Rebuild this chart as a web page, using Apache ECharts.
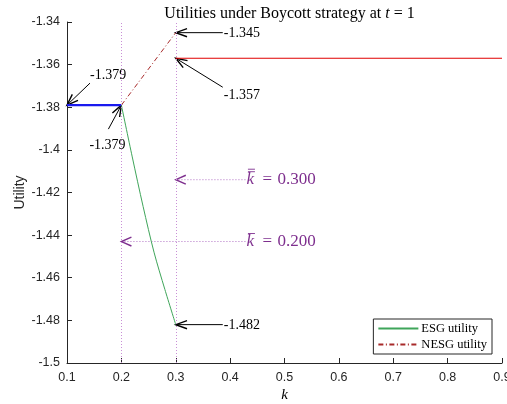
<!DOCTYPE html>
<html>
<head>
<meta charset="utf-8">
<script src="https://cdn.jsdelivr.net/npm/echarts@6/dist/echarts.min.js"></script>
<style>
  html, body { margin: 0; padding: 0; background: #ffffff; }
  #chart { width: 507px; height: 404px; }
</style>
</head>
<body>
<div id="chart"></div>
<script>
// Axis ticks
const kTicks = [0.1, 0.2, 0.3, 0.4, 0.5, 0.6, 0.7, 0.8, 0.9];
const utilityTicks = [-1.5, -1.48, -1.46, -1.44, -1.42, -1.4, -1.38, -1.36, -1.34];

// Utility below the lower threshold (shared by both groups)
const baseK = [0.1, 0.2];
const baseU = [-1.379, -1.379];

// ESG utility between the thresholds
const esgK = [0.20, 0.22, 0.24, 0.26, 0.28, 0.30];
const esgU = [-1.379, -1.4033, -1.4266, -1.448, -1.4655, -1.482];

// NESG utility between the thresholds
const nesgK = [0.2, 0.3];
const nesgU = [-1.379, -1.345];

// Utility above the upper threshold
const flatK = [0.3, 0.9];
const flatU = [-1.357, -1.357];

// Threshold positions
const thresholdK = [0.2, 0.3];

// Value call-outs
const calloutK = [0.1, 0.2, 0.3, 0.3, 0.3];
const calloutU = [-1.379, -1.379, -1.345, -1.357, -1.482];
const calloutText = ['-1.379', '-1.379', '-1.345', '-1.357', '-1.482'];

// Threshold labels
const thrLabelK = [0.3, 0.2];
const thrLabelU = [-1.414, -1.443];
const thrLabelValue = ['0.300', '0.200'];
const thrLabelBars = [2, 1];

const zip = (a, b) => a.map((v, i) => [v, b[i]]);

const SERIF = '"Liberation Serif", "DejaVu Serif", serif';
const SANS = '"Liberation Sans", Arial, sans-serif';
const AXIS_COLOR = '#262626';
const PURPLE = '#7e2f8e';

// Pixel offsets of the call-out arrows and texts relative to their targets
const calloutLayout = [
  { tail: [23, -22], text: [23, -30] },
  { tail: [-13, 24], text: [-32, 40] },
  { tail: [47, 0], text: [48, 1] },
  { tail: [47, 29], text: [48, 37] },
  { tail: [47, 0], text: [48, 1] }
];
const THR_TEXT_K = 0.43;

function chevron(tip, from, len, halfDeg) {
  const dx = tip[0] - from[0], dy = tip[1] - from[1];
  const n = Math.hypot(dx, dy) || 1;
  const ux = dx / n, uy = dy / n;
  const a = halfDeg * Math.PI / 180, c = Math.cos(a), s = Math.sin(a);
  const p1 = [tip[0] - len * (ux * c - uy * s), tip[1] - len * (uy * c + ux * s)];
  const p2 = [tip[0] - len * (ux * c + uy * s), tip[1] - len * (uy * c - ux * s)];
  return [p1, tip, p2];
}

const chart = echarts.init(document.getElementById('chart'), null, { renderer: 'canvas' });

const option = {
  animation: false,
  backgroundColor: '#ffffff',
  title: {
    text: '{n|Utilities under Boycott strategy at }{i|t}{n| = 1}',
    left: 284.5,
    top: 1,
    textAlign: 'center',
    textStyle: {
      fontWeight: 'normal',
      rich: {
        n: { fontFamily: SERIF, fontSize: 16, fontWeight: 'normal', color: '#000' },
        i: { fontFamily: SERIF, fontSize: 16, fontWeight: 'normal', fontStyle: 'italic', color: '#000' }
      }
    }
  },
  grid: { left: 67, right: 5, top: 22, bottom: 41, containLabel: false, outerBoundsMode: 'none' },
  legend: {
    orient: 'vertical',
    right: 15,
    bottom: 50,
    data: ['ESG utility', 'NESG utility'],
    itemWidth: 40,
    itemHeight: 10,
    itemGap: 3,
    padding: [3, 5, 3, 4],
    backgroundColor: '#ffffff',
    borderColor: AXIS_COLOR,
    borderWidth: 1,
    borderRadius: 0,
    itemStyle: { color: 'rgba(0,0,0,0)', borderColor: 'rgba(0,0,0,0)', borderWidth: 0, opacity: 0 },
    textStyle: { fontFamily: SERIF, fontSize: 12.5, color: '#000', padding: [0, 0, 0, -2] }
  },
  xAxis: {
    type: 'value',
    min: kTicks[0],
    max: kTicks[kTicks.length - 1],
    interval: 0.1,
    name: 'k',
    nameLocation: 'middle',
    nameGap: 25,
    nameMoveOverlap: false,
    nameTextStyle: { fontFamily: SERIF, fontStyle: 'italic', fontSize: 15, color: '#000' },
    axisLine: { show: true, onZero: false, lineStyle: { color: AXIS_COLOR, width: 1 } },
    axisTick: { show: true, inside: true, length: 5, lineStyle: { color: AXIS_COLOR } },
    axisLabel: {
      fontFamily: SANS, fontSize: 12.5, color: AXIS_COLOR, margin: 8,
      formatter: v => String(kTicks.find(t => Math.abs(t - v) < 1e-9) ?? v)
    },
    splitLine: { show: false }
  },
  yAxis: {
    type: 'value',
    min: utilityTicks[0],
    max: utilityTicks[utilityTicks.length - 1],
    interval: 0.02,
    name: 'Utility',
    nameLocation: 'middle',
    nameGap: 40,
    nameMoveOverlap: false,
    nameTextStyle: { fontFamily: SANS, fontSize: 14, color: AXIS_COLOR },
    axisLine: { show: true, onZero: false, lineStyle: { color: AXIS_COLOR, width: 1 } },
    axisTick: { show: true, inside: true, length: 5, lineStyle: { color: AXIS_COLOR } },
    axisLabel: {
      fontFamily: SANS, fontSize: 12.5, color: AXIS_COLOR, margin: 7,
      formatter: v => String(utilityTicks.find(t => Math.abs(t - v) < 1e-9) ?? v)
    },
    splitLine: { show: false }
  },
  series: [
    {
      name: 'thresholds',
      type: 'line',
      data: [],
      silent: true,
      markLine: {
        silent: true,
        symbol: ['none', 'none'],
        label: { show: false },
        lineStyle: { color: '#c98fd6', type: [1, 2], width: 1 },
        data: thresholdK.map(k => ({ xAxis: k }))
      }
    },
    {
      name: 'base',
      type: 'line',
      data: zip(baseK, baseU),
      showSymbol: false,
      symbol: 'none',
      lineStyle: { color: '#1a1aee', width: 2.2 }
    },
    {
      name: 'ESG utility',
      type: 'line',
      data: zip(esgK, esgU),
      smooth: 0.3,
      showSymbol: false,
      symbol: 'none',
      color: '#3fa55a',
      lineStyle: { color: '#3fa55a', width: 1 }
    },
    {
      name: 'NESG utility',
      type: 'line',
      data: zip(nesgK, nesgU),
      showSymbol: false,
      symbol: 'none',
      color: '#a82a2a',
      lineStyle: { color: '#a82a2a', width: 1, type: [5, 2.5, 1, 2.5] }
    },
    {
      name: 'flat',
      type: 'line',
      data: zip(flatK, flatU),
      showSymbol: false,
      symbol: 'none',
      lineStyle: { color: '#e00000', width: 1.2 }
    },
    {
      name: 'thresholdLabels',
      type: 'custom',
      silent: true,
      clip: false,
      data: zip(thrLabelK, thrLabelU),
      encode: { x: 0, y: 1 },
      renderItem: (params, api) => {
        const i = params.dataIndex;
        const tip = api.coord([api.value(0), api.value(1)]);
        const start = api.coord([THR_TEXT_K, api.value(1)]);
        const x0 = start[0];
        const y = tip[1];
        const children = [
          { type: 'line', shape: { x1: x0 - 1, y1: y, x2: tip[0], y2: y },
            style: { stroke: '#b070c4', lineWidth: 1, lineDash: [1, 2] } },
          { type: 'polyline', shape: { points: chevron(tip, [x0, y], 11, 24) },
            style: { stroke: PURPLE, lineWidth: 1.4, fill: null } },
          { type: 'text', x: x0, y: y,
            style: { text: 'k', fontFamily: SERIF, fontStyle: 'italic', fontSize: 17,
              fill: PURPLE, align: 'left', verticalAlign: 'middle' } },
          { type: 'text', x: x0 + 16, y: y,
            style: { text: '=', fontFamily: SERIF, fontSize: 17,
              fill: PURPLE, align: 'left', verticalAlign: 'middle' } },
          { type: 'text', x: x0 + 31, y: y,
            style: { text: thrLabelValue[i], fontFamily: SERIF, fontSize: 17,
              fill: PURPLE, align: 'left', verticalAlign: 'middle' } }
        ];
        for (let b = 0; b < thrLabelBars[i]; b++) {
          const by = y - 8 - b * 2.5;
          children.push({ type: 'line', shape: { x1: x0 + 1.5, y1: by, x2: x0 + 8.5, y2: by },
            style: { stroke: PURPLE, lineWidth: 0.9 } });
        }
        return { type: 'group', children };
      }
    },
    {
      name: 'callouts',
      type: 'custom',
      silent: true,
      clip: false,
      data: zip(calloutK, calloutU),
      encode: { x: 0, y: 1 },
      renderItem: (params, api) => {
        const i = params.dataIndex;
        const L = calloutLayout[i];
        const tip = api.coord([api.value(0), api.value(1)]);
        const tail = [tip[0] + L.tail[0], tip[1] + L.tail[1]];
        return {
          type: 'group',
          children: [
            { type: 'line', shape: { x1: tail[0], y1: tail[1], x2: tip[0], y2: tip[1] },
              style: { stroke: '#000', lineWidth: 1 } },
            { type: 'polyline', shape: { points: chevron(tip, tail, 12, 20) },
              style: { stroke: '#000', lineWidth: 1.4, fill: null } },
            { type: 'text', x: tip[0] + L.text[0], y: tip[1] + L.text[1],
              style: { text: calloutText[i], fontFamily: SERIF, fontSize: 14,
                fill: '#000', align: 'left', verticalAlign: 'middle' } }
          ]
        };
      }
    }
  ]
};

chart.setOption(option);
</script>
</body>
</html>
